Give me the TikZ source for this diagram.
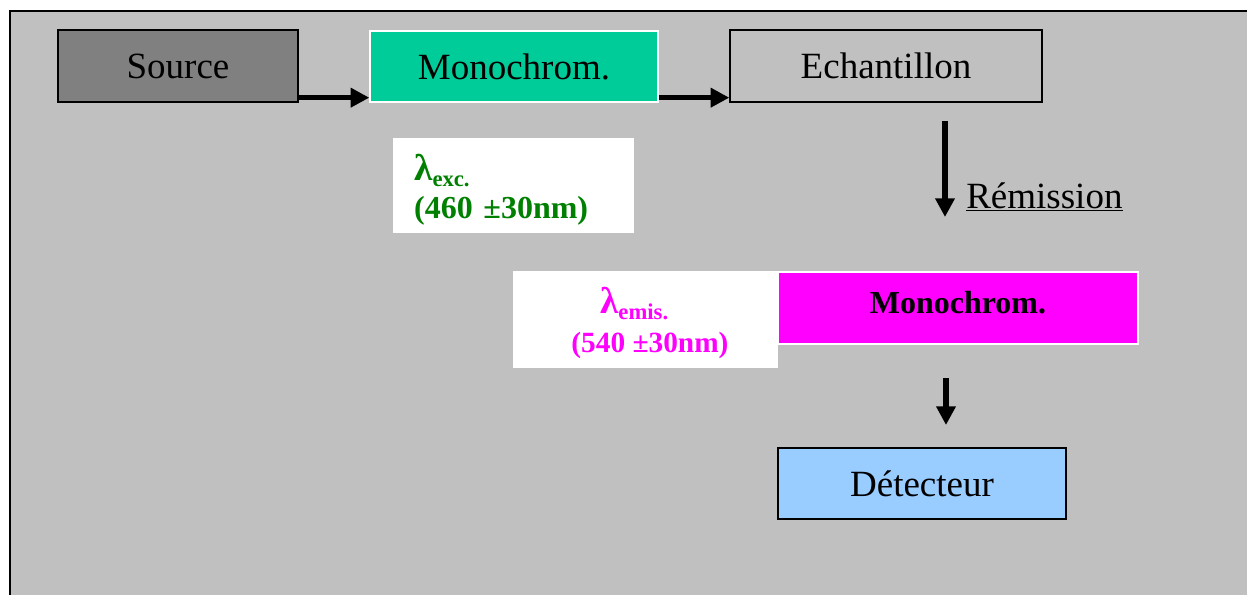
\documentclass[tikz,border=0pt]{standalone}
\usepackage{fontspec}
\setmainfont{Liberation Serif}
\usetikzlibrary{arrows.meta}
\definecolor{fond}{HTML}{C0C0C0}
\definecolor{gris}{HTML}{808080}
\definecolor{turq}{HTML}{00CC99}
\definecolor{bleuclair}{HTML}{99CCFF}
\definecolor{vertlam}{HTML}{008000}
\definecolor{magen}{HTML}{FF00FF}
\newcommand{\grandlam}{{\fontsize{28}{28}\selectfont λ}}
\newcommand{\sousind}[1]{\raisebox{-4.5pt}{\fontsize{17}{17}\selectfont #1}}
\tikzset{
  boite/.style={rectangle, inner sep=0pt, draw=black, line width=1pt,
    font=\fontsize{27.75}{30}\selectfont},
  legende/.style={rectangle, inner sep=0pt, fill=white,
    font=\fontsize{24}{26}\selectfont\bfseries},
  fleche/.style={line width=4pt, -{Triangle[length=14pt,width=14pt]}},
}
\begin{document}
\begin{tikzpicture}[x=0.75pt,y=-0.75pt]
		\useasboundingbox (0,0) rectangle (1247,594);
		\clip (0,0) rectangle (1247,594);
		\draw[line width=1.2pt, fill=fond] (10,11) rectangle (1290,640);
		%
		\node[boite, fill=gris, minimum width=180pt, minimum height=54pt] (src) at (178,66) {Source};
		\node[boite, fill=turq, draw=white, minimum width=216pt, minimum height=53.25pt] (mono1) at (514,66.5) {Monochrom.};
		\node[boite, minimum width=234pt, minimum height=54pt] (echan) at (886,66) {Echantillon};
		%
		\node[legende, text=vertlam, align=left, text width=149pt, inner xsep=15.75pt,
			minimum width=180.75pt, minimum height=71.25pt] (exc) at (513.5,185.5)
			{\rule{0pt}{26pt}\grandlam\sousind{exc.}\\[3pt](460 ±30nm)};
		\node[legende, text=magen, align=center, minimum width=198.75pt, minimum height=72.75pt,
			font=\fontsize{22}{24}\selectfont\bfseries]
			(emis) at (645.5,319.5) {\rule{0pt}{25pt}\grandlam\sousind{emis.}\hspace*{17pt}\\[5pt]\hspace*{6.75pt}(540 ±30nm)};
		\node[boite, fill=magen, draw=white, minimum width=270pt, minimum height=54pt,
			font=\fontsize{24}{26}\selectfont\bfseries, text depth=8pt] (mono2) at (958,308) {Monochrom.};
		\node[boite, fill=bleuclair, minimum width=216pt, minimum height=53.25pt] (detect) at (922,483.5) {Détecteur};
		%
		\draw[fleche] ([yshift=3.75pt]src.south east) -- ([yshift=3.75pt]mono1.south west);
		\draw[fleche] ([yshift=3.75pt]mono1.south east) -- ([yshift=3.75pt]echan.south west);
		%
		\coordinate (r1) at (945,121);
		\coordinate (r2) at (945,217);
		\draw[fleche] (r1) -- (r2);
		\node[anchor=base west, inner sep=0pt, font=\fontsize{27.75}{30}\selectfont] (rem) at (966,208) {\underline{Rémission}};
		%
		\coordinate (d1) at (946,378);
		\coordinate (d2) at (946,425);
		\draw[fleche] (d1) -- (d2);
		%
\end{tikzpicture}
\end{document}
